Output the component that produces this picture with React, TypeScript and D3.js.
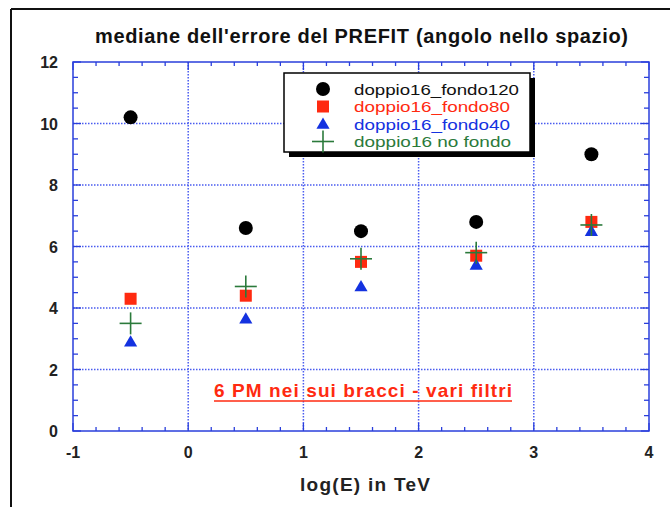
import React from "react";
import * as d3 from "d3";

const W = 670;
const H = 507;

// log(E) bins and PREFIT median angular error per background setting
const energies = [-0.5, 0.5, 1.5, 2.5, 3.5];
const fondo120 = [10.2, 6.6, 6.5, 6.8, 9.0];
const fondo80 = [4.3, 4.4, 5.5, 5.7, 6.8];
const fondo40 = [2.9, 3.65, 4.7, 5.4, 6.5];
const noFondo = [3.5, 4.7, 5.6, 5.8, 6.7];

const xTicks = [-1, 0, 1, 2, 3, 4];
const yTicks = [0, 2, 4, 6, 8, 10, 12];
const legendLabels = ["doppio16_fondo120", "doppio16_fondo80", "doppio16_fondo40", "doppio16 no fondo"];
const legendWidths = [165, 156, 156, 157];

const AXIS = "#2a3fdc";
const GRID = "#4a5cf0";
const BLACK = "#000";
const RED = "#ff2a10";
const BLUE = "#1432e0";
const GREEN = "#2b7a3b";
const FONT = "'Liberation Sans', Arial, Helvetica, sans-serif";

const left = 73, right = 649, top = 62, bottom = 431;

export default function App() {
  const x = d3.scaleLinear().domain([-1, 4]).range([left, right]);
  const y = d3.scaleLinear().domain([0, 12]).range([bottom, top]);

  const xMinor = d3.range(-1, 4.0001, 0.2).filter((v) => Math.abs(v - Math.round(v)) > 1e-6);
  const yMinor = d3.range(0, 12.0001, 0.5).filter((v) => Math.abs(v / 2 - Math.round(v / 2)) > 1e-6);

  const tri = d3.symbol().type(d3.symbolTriangle).size(75)();

  const renderCircle = (cx: number, cy: number, k: string) => <circle key={k} cx={cx} cy={cy} r={7} fill={BLACK} />;
  const renderSquare = (cx: number, cy: number, k: string) => <rect key={k} x={cx - 6} y={cy - 6} width={12} height={12} fill={RED} />;
  const renderTri = (cx: number, cy: number, k: string) => <path key={k} d={tri as string} transform={`translate(${cx},${cy + 1})`} fill={BLUE} />;
  const renderPlus = (cx: number, cy: number, k: string) => (
    <g key={k} stroke={GREEN} strokeWidth={1.6}>
      <line x1={cx - 11} x2={cx + 11} y1={cy} y2={cy} />
      <line x1={cx} x2={cx} y1={cy - 11} y2={cy + 11} />
    </g>
  );

  const series = [
    { vals: fondo120, draw: renderCircle, color: "#111" },
    { vals: fondo80, draw: renderSquare, color: RED },
    { vals: fondo40, draw: renderTri, color: BLUE },
    { vals: noFondo, draw: renderPlus, color: GREEN },
  ];

  const lgX = 284, lgY = 73, lgW = 246, lgH = 79;

  return (
    <svg width={W} height={H} style={{ position: "absolute", left: 0, top: 0, background: "#fff" }} fontFamily={FONT}>
      {/* page frame */}
      <line x1={11} x2={W} y1={9} y2={9} stroke="#111" strokeWidth={2} />
      <line x1={11} x2={11} y1={9} y2={H} stroke="#111" strokeWidth={2} />

      <text x={361.5} y={43} textAnchor="middle" fontSize={20} fontWeight="bold" fill="#111" textLength={533} lengthAdjust="spacing">
        mediane dell'errore del PREFIT (angolo nello spazio)
      </text>

      {/* grid */}
      <g stroke={GRID} strokeWidth={1.5} strokeDasharray="1.5,1.5">
        {xTicks.slice(1, -1).map((t) => (
          <line key={"gx" + t} x1={x(t)} x2={x(t)} y1={top} y2={bottom} />
        ))}
        {yTicks.slice(1, -1).map((t) => (
          <line key={"gy" + t} x1={left} x2={right} y1={y(t)} y2={y(t)} />
        ))}
      </g>

      {/* frame and ticks */}
      <rect x={left} y={top} width={right - left} height={bottom - top} fill="none" stroke={AXIS} strokeWidth={1.5} />
      <g stroke={AXIS} strokeWidth={1.3}>
        {xTicks.map((t) => (
          <g key={"xt" + t}>
            <line x1={x(t)} x2={x(t)} y1={bottom} y2={bottom - 8} />
            <line x1={x(t)} x2={x(t)} y1={top} y2={top + 8} />
          </g>
        ))}
        {xMinor.map((t) => (
          <g key={"xm" + t}>
            <line x1={x(t)} x2={x(t)} y1={bottom} y2={bottom - 4} />
            <line x1={x(t)} x2={x(t)} y1={top} y2={top + 4} />
          </g>
        ))}
        {yTicks.map((t) => (
          <g key={"yt" + t}>
            <line x1={left} x2={left + 8} y1={y(t)} y2={y(t)} />
            <line x1={right} x2={right - 8} y1={y(t)} y2={y(t)} />
          </g>
        ))}
        {yMinor.map((t) => (
          <g key={"ym" + t}>
            <line x1={left} x2={left + 5} y1={y(t)} y2={y(t)} />
            <line x1={right} x2={right - 5} y1={y(t)} y2={y(t)} />
          </g>
        ))}
      </g>

      {/* tick labels */}
      <g fontSize={16} fontWeight="bold" fill="#222">
        {yTicks.map((t) => (
          <text key={"yl" + t} x={58} y={y(t) + 6} textAnchor="end">
            {t}
          </text>
        ))}
        {xTicks.map((t) => (
          <text key={"xl" + t} x={x(t)} y={458} textAnchor="middle">
            {t}
          </text>
        ))}
      </g>

      <text x={365} y={491} textAnchor="middle" fontSize={19} fontWeight="bold" fill="#222" textLength={130} lengthAdjust="spacing">
        log(E) in TeV
      </text>

      {/* annotation */}
      <text x={363} y={397} textAnchor="middle" fontSize={19} fontWeight="bold" fill={RED} textLength={298} lengthAdjust="spacing">
        6 PM nei sui bracci - vari filtri
      </text>
      <line x1={214} x2={512} y1={401} y2={401} stroke={RED} strokeWidth={1.6} />

      {/* data points */}
      {series.map((s, si) =>
        energies.map((e, i) => s.draw(x(e), y(s.vals[i]), `p${si}-${i}`))
      )}

      {/* legend */}
      <rect x={lgX + 5} y={lgY + 5} width={lgW} height={lgH} fill="#000" />
      <rect x={lgX} y={lgY} width={lgW} height={lgH} fill="#fff" stroke="#000" strokeWidth={1.5} />
      {series.map((s, i) => {
        const cy = lgY + 16 + i * 17.5;
        return (
          <g key={"lg" + i}>
            {s.draw(lgX + 39, cy, "lgs" + i)}
            <text x={lgX + 70} y={cy + 5.5} fontSize={15} fill={s.color} textLength={legendWidths[i]} lengthAdjust="spacingAndGlyphs">
              {legendLabels[i]}
            </text>
          </g>
        );
      })}
    </svg>
  );
}
